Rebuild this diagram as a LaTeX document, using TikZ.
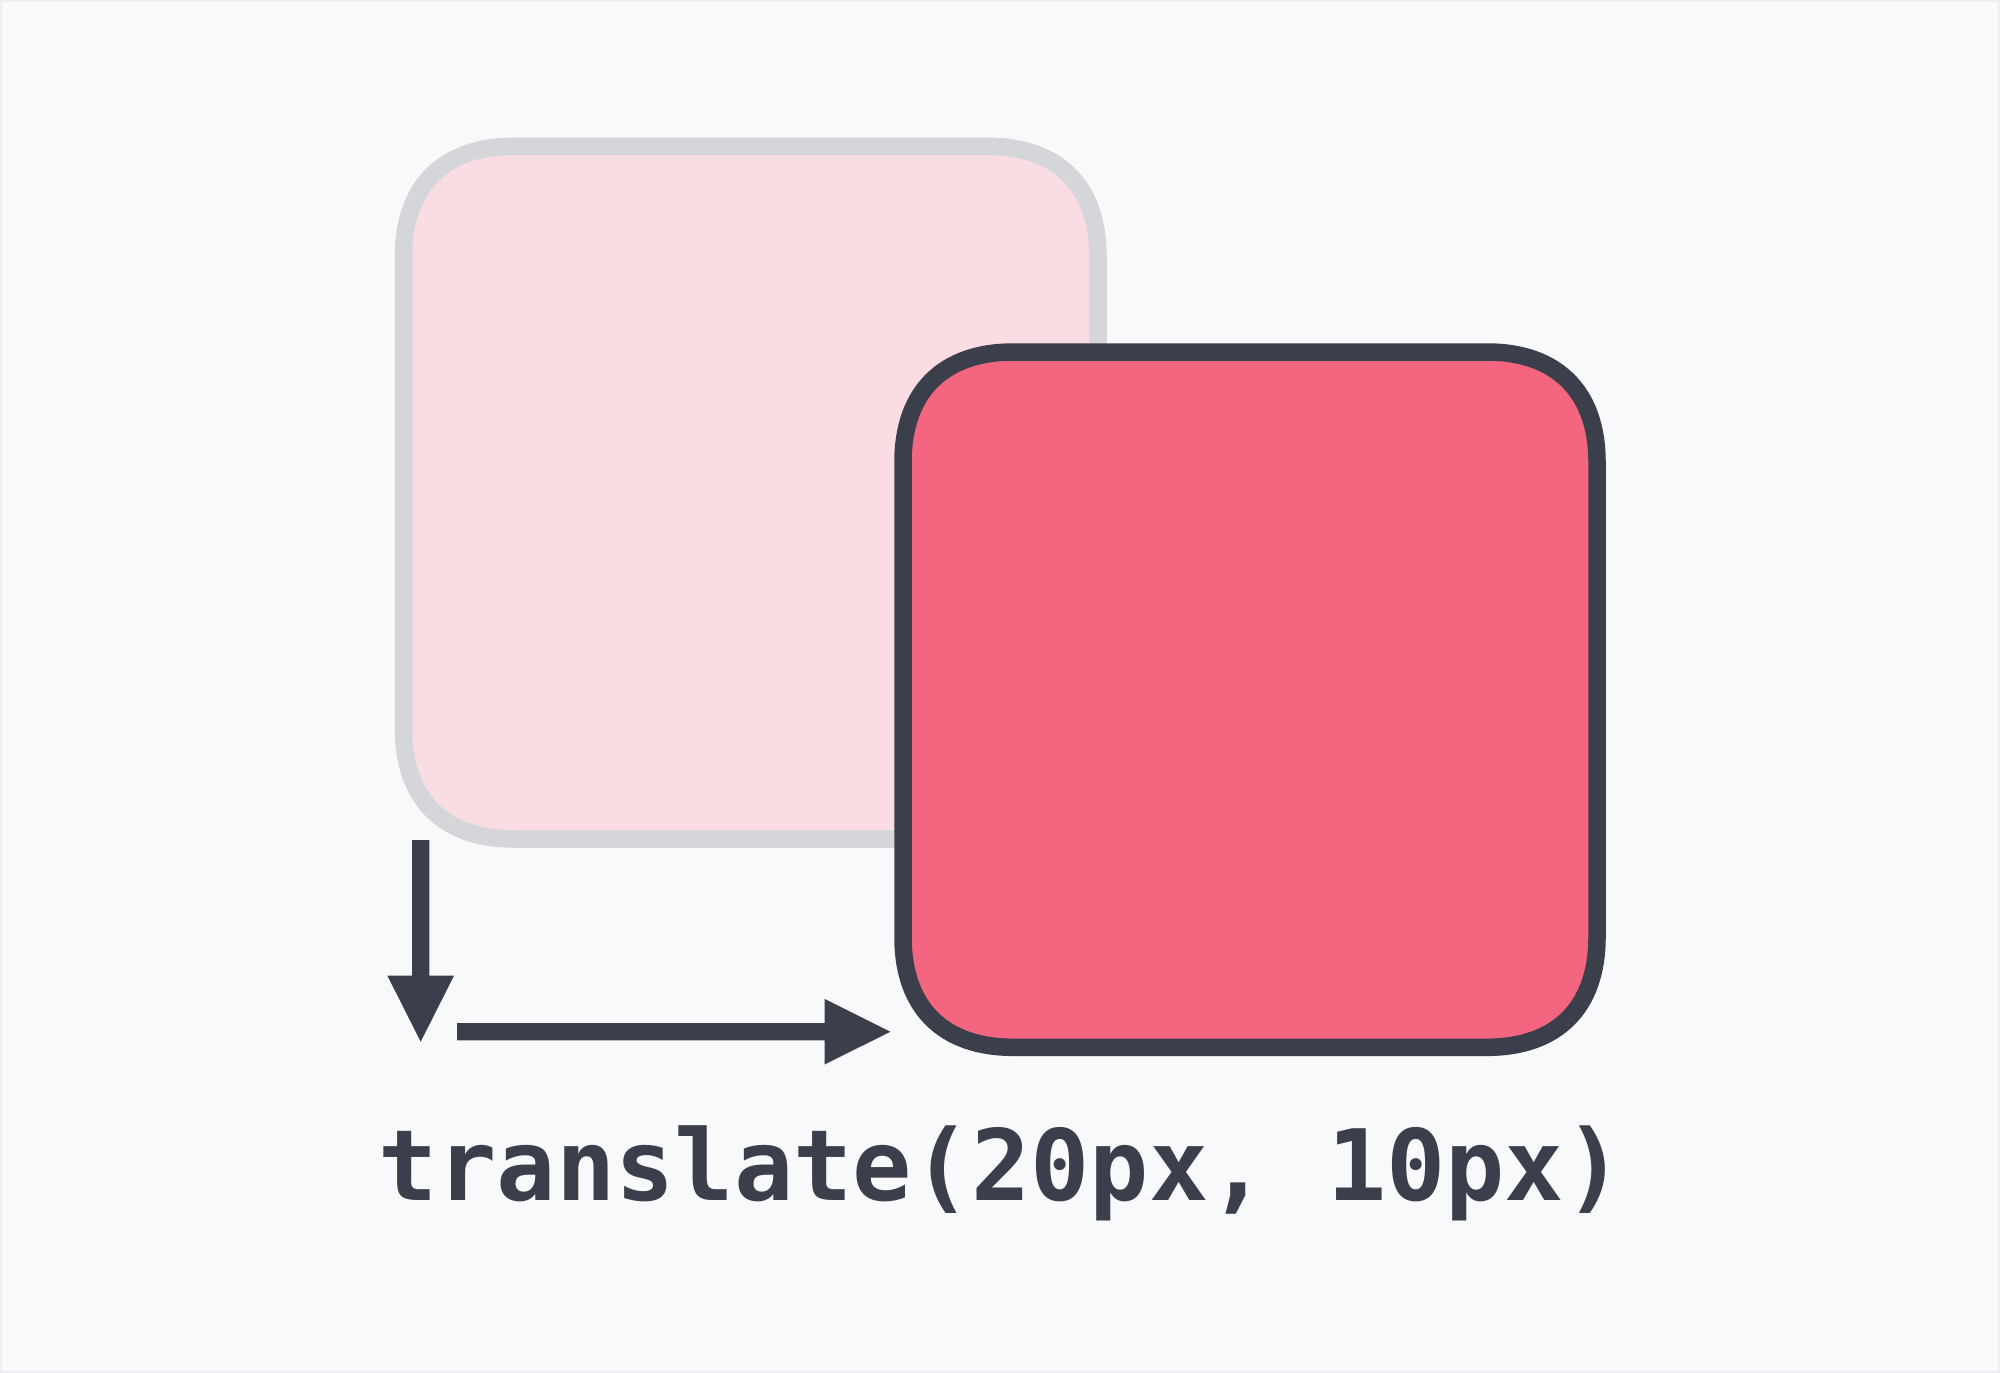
\documentclass[tikz,border=0pt]{standalone}
\usepackage{fontspec}
\setmonofont{DejaVu Sans Mono}
\definecolor{bgc}{HTML}{F8F9FB}
\definecolor{edgec}{HTML}{ECEEF1}
\definecolor{ghostfill}{HTML}{FADCE3}
\definecolor{ghostline}{HTML}{D5D6DA}
\definecolor{boxfill}{HTML}{F4667F}
\definecolor{ink}{HTML}{3B3F4B}
\newcommand\sqrect[4]{%
  ({#1+110},{#2}) -- ({#3-110},{#2})
  .. controls ({#3-40},{#2}) and ({#3},{#2+40}) .. ({#3},{#2+110})
  -- ({#3},{#4-110})
  .. controls ({#3},{#4-40}) and ({#3-40},{#4}) .. ({#3-110},{#4})
  -- ({#1+110},{#4})
  .. controls ({#1+40},{#4}) and ({#1},{#4-40}) .. ({#1},{#4-110})
  -- ({#1},{#2+110})
  .. controls ({#1},{#2+40}) and ({#1+40},{#2}) .. cycle}
\tikzset{
  ghost/.style={fill=ghostfill, draw=ghostline, line width=17.5pt},
  moved/.style={fill=boxfill, draw=ink, line width=17.5pt},
  arrowshape/.style={fill=ink},
  codelabel/.style={font=\fontsize{98.5}{110}\selectfont\ttfamily\bfseries, text=ink, inner sep=0pt, anchor=base}
}
\begin{document}
\begin{tikzpicture}[x=1pt,y=-1pt]
\useasboundingbox (0,0) rectangle (2000,1373);
\fill[bgc] (0,0) rectangle (2000,1373);
\draw[edgec, line width=2pt] (1,1) rectangle (1999,1372);
% original (ghost) box
\path[ghost] \sqrect{403.5}{146.3}{1098}{839};
% translated box
\path[moved] \sqrect{903}{352}{1597}{1047.3};
% arrow coordinates
\coordinate (downS) at (420.7,840);
\coordinate (downE) at (420.7,1041.7);
\coordinate (rightS) at (457.1,1031.7);
\coordinate (rightE) at (890.4,1031.7);
% down arrow
\fill[arrowshape] ([xshift=-8.6pt]downS) -- ([xshift=8.6pt]downS)
  -- ([xshift=8.6pt,yshift=66pt]downE) -- ([xshift=33.3pt,yshift=66pt]downE)
  -- (downE) -- ([xshift=-33.3pt,yshift=66pt]downE)
  -- ([xshift=-8.6pt,yshift=66pt]downE) -- cycle;
% right arrow
\fill[arrowshape] ([yshift=8.7pt]rightS) -- ([xshift=-65.8pt,yshift=8.7pt]rightE)
  -- ([xshift=-65.8pt,yshift=32.8pt]rightE) -- (rightE)
  -- ([xshift=-65.8pt,yshift=-32.8pt]rightE) -- ([xshift=-65.8pt,yshift=-8.7pt]rightE)
  -- ([yshift=-8.7pt]rightS) -- cycle;
\node[codelabel] (label) at (1001,1200.7) {translate(20px, 10px)};
\end{tikzpicture}
\end{document}
